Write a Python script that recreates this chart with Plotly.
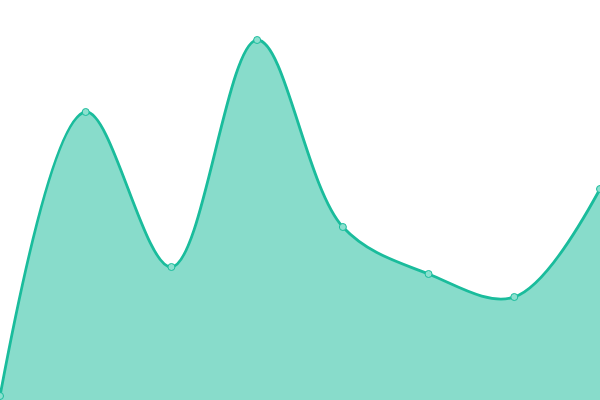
import plotly.graph_objects as go

# values (pixel height from the bottom of a 400px plot)
steps = [0, 1, 2, 3, 4, 5, 6, 7]
values = [4, 288, 133, 360, 173, 126, 103, 211]

line_color = "#1abc9c"
fill_color = "rgba(26,188,156,0.52)"

fig = go.Figure()
fig.add_trace(
    go.Scatter(
        x=steps,
        y=values,
        mode="lines+markers",
        line=dict(color=line_color, width=2.8, shape="spline", smoothing=1),
        marker=dict(size=7, color="#8ce0cf", line=dict(color=line_color, width=1)),
        fill="tozeroy",
        fillcolor=fill_color,
        cliponaxis=True,
        hoverinfo="skip",
    )
)
fig.update_xaxes(visible=False, range=[0, 7])
fig.update_yaxes(visible=False, range=[0, 400])
fig.update_layout(
    width=600,
    height=400,
    margin=dict(l=0, r=0, t=0, b=0),
    paper_bgcolor="white",
    plot_bgcolor="white",
    showlegend=False,
)
# drop the browser's default page margin so the chart sits at the corner
fig.write_html(
    "out.html",
    config={"displayModeBar": False},
    post_script="document.body.style.margin='0';",
)
